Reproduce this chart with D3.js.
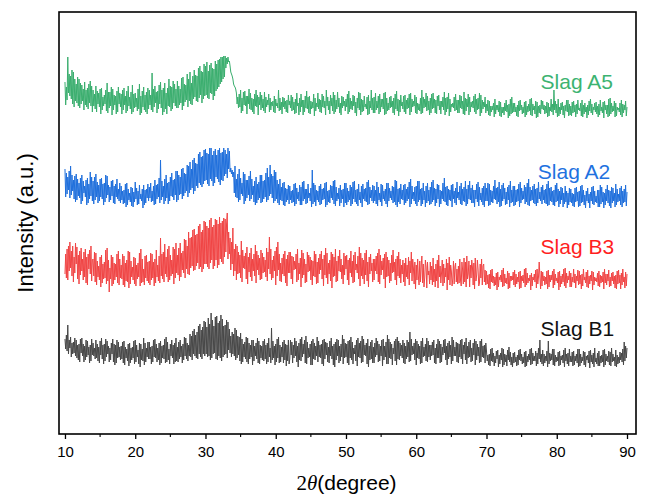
<!DOCTYPE html>
<html>
<head>
<meta charset="utf-8">
<script src="https://cdn.jsdelivr.net/npm/d3@7"></script>
<style>
  body { margin: 0; background: #fff; }
  svg { display: block; }
</style>
</head>
<body>
<svg id="chart" width="649" height="496"></svg>
<script>
// Scan grid: 2θ from 10° to 90° in 0.1° steps
const thetaStart = 10;
const thetaStep = 0.1;

const seriesNames = ["Slag A5", "Slag A2", "Slag B3", "Slag B1"];
// vertical stacking offset of each pattern (a.u.)
const seriesOffsets = [300, 210, 130, 50];
const xTicks = [10, 20, 30, 40, 50, 60, 70, 80, 90];
const xMinorTicks = [15, 25, 35, 45, 55, 65, 75, 85];

// Measured intensities (a.u.), one value per 0.1° step, 40 values per row = 4°
const slagA5 = [
  52,29,47,34,77,41,60,38,58,35,64,30,62,27,55,33,50,31,57,28,55,26,51,30,49,33,45,24,52,29,44,27,46,25,50,31,53,28,48,22,
  44,28,40,25,48,22,43,30,41,27,45,20,46,24,37,28,39,30,44,23,51,21,42,26,42,28,47,19,45,24,39,29,38,20,43,22,47,30,41,27,
  40,20,44,24,46,29,38,21,43,23,48,28,37,25,42,20,49,22,40,26,41,27,36,23,45,25,50,19,38,21,43,27,47,24,39,22,42,20,46,25,
  44,29,39,24,61,22,45,27,48,31,42,21,43,25,49,30,52,26,44,19,46,22,51,25,41,20,46,28,55,27,48,23,47,25,53,31,50,28,45,26,
  53,26,48,29,45,31,56,24,57,28,50,32,49,34,60,27,55,33,62,30,51,29,58,35,64,37,59,33,58,32,66,36,68,39,63,31,62,35,70,38,
  68,39,72,36,63,35,69,41,71,40,66,34,65,38,73,43,70,45,74,47,75,50,77,52,77,55,78,57,78,66,76,70,77,72,73,68,62,60,58,55,
  50,48,47,45,41,30,37,26,40,27,44,21,36,23,42,29,43,28,38,20,38,30,45,25,41,24,36,22,35,20,40,28,44,27,39,19,37,29,42,24,
  39,26,35,23,42,21,37,27,34,29,40,22,36,24,32,28,33,22,38,21,35,28,31,26,44,23,36,24,32,20,37,27,36,25,33,22,34,21,39,29,
  33,26,39,23,37,24,32,20,35,21,41,28,31,19,36,22,40,27,34,19,34,22,38,26,43,25,37,21,38,20,33,25,32,26,40,18,36,23,31,27,
  41,25,35,22,34,21,40,27,38,26,33,19,44,28,37,24,33,20,39,28,36,23,42,20,39,22,34,25,42,27,36,21,31,19,38,26,37,28,33,23,
  35,27,40,20,43,22,36,25,33,24,39,28,38,21,32,18,36,26,42,24,41,19,35,22,34,23,38,27,30,25,37,19,39,20,33,26,44,24,36,21,
  37,21,41,24,33,26,38,20,40,22,35,27,35,25,41,19,42,20,36,23,31,24,37,26,38,27,33,21,36,19,40,25,43,23,35,18,34,22,39,28,
  32,25,38,22,39,20,34,25,36,26,40,19,41,22,35,27,33,28,39,21,37,20,31,24,30,23,36,20,44,21,37,26,35,27,41,23,38,24,33,19,
  36,21,40,25,41,26,35,21,34,20,38,28,39,24,33,20,33,27,37,24,42,19,36,22,37,25,41,18,35,22,30,27,31,26,37,23,40,24,34,21,
  34,21,39,26,38,25,33,20,42,19,36,23,35,27,40,19,37,22,32,27,33,26,38,22,40,20,35,24,36,25,41,18,39,21,34,25,32,27,37,21,
  30,23,34,19,33,18,28,22,28,24,31,17,35,20,29,24,29,22,33,18,32,17,27,21,27,19,31,23,34,22,29,16,30,18,35,20,37,21,31,22,
  31,22,27,18,29,17,33,23,34,24,29,20,27,21,32,17,33,19,28,22,30,23,35,19,36,18,30,24,28,20,33,16,32,17,28,21,29,20,34,25,
  33,24,29,20,28,21,32,17,31,18,27,23,35,22,30,19,44,24,33,21,30,17,35,18,27,20,31,24,32,19,28,16,29,23,34,22,34,18,30,19,
  28,18,32,21,33,22,29,17,30,20,34,24,26,23,31,18,34,17,29,20,31,22,27,16,29,19,33,23,35,21,30,19,27,24,31,22,32,20,28,17,
  30,19,34,23,27,21,32,16,33,24,29,20,29,17,35,18,36,20,31,22,28,23,33,17,31,18,27,24,26,22,31,19,34,17,30,21,29,24,33,18,
  27
];

const slagA2 = [
  55,27,51,30,47,34,53,26,58,29,49,33,44,25,48,22,50,24,45,28,41,26,46,20,49,23,43,31,38,27,44,19,46,21,40,25,52,28,47,23,
  43,20,47,24,50,27,42,21,39,23,45,27,46,25,40,19,41,22,49,26,48,29,39,22,37,24,43,28,44,21,38,20,40,27,45,25,35,23,41,21,
  38,24,33,20,34,21,40,17,41,19,35,24,31,22,37,18,36,17,32,22,42,25,36,19,33,20,39,25,30,23,35,16,39,19,34,21,35,26,40,23,
  37,26,41,22,33,23,38,19,44,20,39,25,40,27,46,21,64,24,43,27,38,20,45,23,49,26,41,20,42,23,47,28,51,27,44,24,45,29,53,22,
  53,24,49,29,47,30,55,25,56,28,51,31,50,33,59,27,58,31,62,34,55,36,64,30,66,33,61,38,60,36,70,41,72,39,67,37,68,40,74,43,
  75,44,71,40,70,38,76,45,76,43,69,38,73,41,75,47,69,45,74,42,76,39,71,44,72,43,76,48,74,50,70,46,76,55,73,52,56,50,54,47,
  52,31,58,27,45,26,50,22,55,24,46,30,41,28,52,20,50,23,44,26,44,29,48,23,53,25,45,29,38,22,43,19,47,21,40,24,42,26,49,21,
  49,22,43,25,44,27,51,22,56,24,47,28,59,30,50,26,48,21,54,23,52,25,44,21,40,19,45,24,37,23,41,19,42,18,36,22,35,24,39,20,
  38,24,33,21,34,22,40,18,41,20,36,25,32,23,39,19,37,19,42,23,43,25,35,20,35,21,40,26,31,23,36,17,54,20,41,22,39,18,34,24,
  33,22,38,19,40,20,35,24,36,25,41,17,42,19,33,22,34,21,39,26,38,24,43,20,44,18,37,23,31,25,36,18,39,21,34,25,35,17,41,21,
  41,19,36,22,33,24,39,18,37,20,42,25,43,22,34,20,35,18,40,24,32,21,38,17,40,25,35,23,36,22,42,19,44,20,37,26,34,23,39,21,
  38,23,34,20,42,18,37,24,31,22,40,18,39,25,33,23,35,20,41,17,41,23,36,26,33,24,38,21,37,22,44,19,43,17,35,22,36,20,40,25,
  34,24,39,19,40,21,35,23,37,25,42,17,45,20,38,25,32,23,37,20,38,18,43,22,43,24,35,18,36,20,41,24,33,17,38,21,41,23,34,19,
  37,20,42,22,44,24,36,18,35,21,40,25,39,17,34,20,33,25,41,23,46,22,37,19,38,18,35,24,34,23,39,17,40,25,33,21,36,19,42,26,
  32,24,38,20,41,19,35,23,37,22,43,18,35,20,39,25,43,24,36,21,39,21,34,17,34,25,40,22,42,18,37,24,31,22,36,19,38,17,41,23,
  36,23,41,18,40,19,34,22,33,21,38,25,44,24,36,20,37,22,42,17,35,18,39,23,41,25,36,19,32,20,37,24,39,17,43,21,34,22,38,18,
  38,19,34,22,35,23,40,17,42,21,36,24,33,25,39,20,37,22,41,19,45,18,37,23,34,24,38,21,40,20,35,18,36,21,42,25,32,23,37,20,
  39,24,34,21,35,20,40,18,43,19,36,23,37,22,33,19,34,18,39,22,41,23,35,17,33,20,37,24,36,17,31,20,38,22,33,16,31,19,36,22,
  35,21,31,18,30,17,36,22,37,23,32,17,33,18,38,21,39,22,34,19,29,16,33,23,36,21,30,16,32,23,37,20,38,19,33,22,28,21,34,17,
  34,17,39,20,37,22,32,16,31,19,35,23,39,21,34,18,33,16,37,21,36,23,31,17,40,19,35,22,30,23,36,19,38,17,33,21,35,22,39,18,
  32
];

const slagB3 = [
  30,50,26,55,24,58,33,62,36,53,28,58,22,47,31,61,40,57,25,49,20,53,29,56,33,45,24,52,27,55,21,47,19,50,35,54,30,58,23,44,
  45,28,52,22,51,19,43,27,38,24,47,17,49,21,40,25,42,26,54,20,56,23,44,12,36,25,49,18,47,20,41,24,40,27,50,21,53,19,45,26,
  39,25,50,19,48,17,41,23,44,22,53,16,52,20,43,27,37,24,47,20,46,18,39,25,41,27,51,18,55,21,45,22,35,19,48,26,49,23,42,21,
  43,19,51,24,50,26,42,18,45,21,54,27,39,23,48,21,66,28,50,25,52,22,60,30,47,27,55,22,58,24,49,28,44,30,57,20,55,26,61,31,
  49,29,56,23,61,27,51,34,53,31,65,26,64,35,58,30,72,29,66,36,67,38,74,33,75,34,69,38,70,41,78,35,80,37,72,32,74,35,83,40,
  82,40,78,37,76,35,84,41,86,44,77,35,79,38,85,44,84,36,80,39,87,45,81,42,83,40,86,47,85,52,80,91,45,72,50,66,34,62,40,76,
  28,55,33,60,24,58,30,52,31,49,26,63,22,54,36,48,35,51,25,57,20,47,32,51,27,56,23,45,33,50,28,59,21,53,34,49,29,46,24,54,
  25,51,31,47,32,44,27,56,23,52,35,67,30,55,24,44,26,48,33,53,19,57,28,62,34,50,23,41,22,46,30,50,28,53,21,45,18,49,31,52,
  31,52,25,48,20,47,34,43,35,50,22,55,24,41,30,46,17,54,26,51,29,45,21,40,22,52,32,49,33,47,24,44,19,43,28,53,27,50,20,42,
  21,46,30,50,34,53,25,45,18,49,29,56,26,51,20,41,30,44,23,52,16,50,27,47,28,55,22,43,23,48,33,54,32,45,25,39,20,51,29,48,
  35,49,24,44,19,46,31,53,27,43,21,49,22,52,34,40,31,48,25,57,18,51,28,46,25,44,20,51,29,54,23,42,17,47,30,50,33,41,22,45,
  24,45,33,48,30,51,22,55,20,49,29,43,34,46,25,50,16,52,27,47,28,44,21,41,23,49,31,54,32,42,24,45,19,48,28,52,26,45,21,39,
  30,44,22,41,18,46,27,39,25,47,19,43,31,52,23,45,36,20,42,15,39,24,45,28,19,43,22,38,48,21,40,17,26,44,37,16,42,29,33,20,
  42,24,38,19,46,22,35,17,40,23,44,16,49,27,38,21,31,44,18,40,21,36,27,45,14,41,24,47,19,39,33,18,25,43,20,37,41,22,35,20,
  38,21,45,24,18,42,34,20,46,22,42,17,48,25,30,43,17,39,26,44,37,19,41,15,46,23,29,44,35,18,21,40,26,45,19,38,40,22,34,19,
  33,20,29,16,30,15,34,22,35,21,28,18,27,19,31,14,32,17,27,24,29,22,34,17,36,18,30,21,26,20,33,15,31,16,28,23,28,24,32,19,
  34,17,30,20,27,22,32,15,33,16,28,23,29,21,35,17,36,19,31,21,26,23,29,14,31,18,27,24,30,22,34,16,35,20,27,42,28,15,33,18,
  32,23,28,19,27,20,33,15,34,17,29,22,29,24,33,16,35,19,30,23,26,21,32,14,33,17,28,20,30,22,35,18,36,16,31,21,28,24,33,17,
  31,17,27,22,35,21,30,16,28,23,34,19,33,20,29,15,30,18,35,24,27,21,32,17,34,16,28,20,29,23,33,14,32,19,27,23,26,22,31,18,
  33,17,29,21,28,22,32,15,35,21,30,19,30,23,34,17,27,18,31,23,32,20,28,16,29,15,33,20,34,21,29,15,31,19,35,22,27,16,32,18,
  30
];

const slagB1 = [
  45,35,49,33,59,30,44,36,47,27,41,30,42,31,46,28,44,26,39,24,40,22,45,31,46,28,40,22,38,24,44,27,43,29,37,21,39,23,45,29,
  41,28,36,25,44,26,40,23,37,21,43,29,46,25,39,20,40,23,45,27,43,30,38,22,36,24,41,30,45,22,40,19,39,21,44,26,42,27,37,24,
  38,25,42,21,43,19,37,26,35,23,40,18,41,21,36,24,37,26,43,20,44,22,39,27,34,20,41,17,40,24,35,23,46,19,41,22,36,27,42,25,
  42,25,37,20,38,22,44,27,45,26,40,22,36,24,41,19,43,21,38,26,39,25,45,21,47,22,42,24,35,20,40,28,44,26,39,20,41,22,46,23,
  37,22,42,25,44,27,38,21,40,24,47,28,46,25,41,23,39,28,50,27,48,24,53,30,55,28,49,26,52,25,58,30,60,27,54,25,57,30,63,28,
  62,30,57,27,66,28,60,24,71,26,64,30,58,31,67,25,68,24,61,28,63,26,69,23,65,27,58,29,59,30,64,26,62,34,55,31,48,27,52,30,
  50,28,56,24,54,26,48,29,47,23,51,20,45,22,40,27,42,25,47,22,46,20,41,25,39,27,44,19,44,23,38,28,41,25,46,21,43,20,39,26,
  38,24,43,23,45,25,39,20,41,22,46,27,36,21,56,24,43,26,38,19,40,22,45,26,47,21,39,22,37,27,42,21,44,24,40,18,39,23,44,20,
  25,44,29,42,21,39,26,46,28,43,22,38,17,41,24,45,23,47,27,40,30,44,21,48,20,42,26,36,27,40,19,43,19,45,25,41,24,38,28,47,
  22,43,27,39,26,40,20,44,18,45,25,42,29,41,22,37,21,43,28,46,25,38,19,40,17,42,24,45,28,44,21,38,23,40,27,49,20,45,26,41,
  27,40,21,43,19,44,26,47,24,42,20,36,30,39,23,44,18,46,27,41,26,43,21,48,22,45,29,39,28,41,20,45,17,38,24,42,25,44,21,37,
  21,41,27,46,29,43,22,40,23,38,28,44,18,45,24,38,27,42,20,49,20,45,26,42,25,40,19,36,30,43,23,45,19,47,25,43,24,41,28,39,
  26,44,21,41,20,38,25,44,27,42,22,52,23,45,29,38,30,41,24,45,19,43,26,40,25,38,20,43,21,46,27,37,28,40,23,46,22,43,27,39,
  24,39,28,42,29,44,21,36,20,40,26,45,26,43,21,40,22,37,29,44,31,45,24,38,19,41,25,43,27,39,20,47,23,44,28,37,28,42,22,41,
  21,40,27,44,25,45,20,39,30,42,24,46,20,38,26,42,27,44,22,36,23,41,29,45,19,43,24,40,28,37,21,43,22,45,27,38,26,39,21,41,
  33,23,29,19,30,18,35,23,36,22,31,18,28,21,33,25,34,17,29,20,31,24,36,17,35,19,30,22,29,18,34,24,37,22,32,19,27,17,31,21,
  32,22,27,18,29,19,34,24,35,23,30,20,27,21,32,17,33,18,28,22,30,24,35,19,36,20,31,23,28,23,33,18,31,20,36,25,44,22,30,20,
  34,18,30,21,28,23,33,17,43,20,31,23,30,24,35,19,35,18,29,22,27,23,32,18,33,19,28,24,29,21,34,17,36,23,30,20,31,18,35,22,
  28,22,32,18,33,19,28,23,30,21,35,17,35,18,30,21,27,23,33,19,32,17,28,24,29,21,33,16,34,22,29,20,31,17,36,22,26,20,31,18,
  33,18,28,21,29,22,34,17,35,19,30,23,28,22,33,19,32,18,36,22,30,23,27,18,34,17,29,20,27,21,32,24,31,22,35,19,42,23,38,26,
  36
];

const seriesValues = [slagA5, slagA2, slagB3, slagB1];

// ---- layout and styling ----
const plot = { left: 59, right: 636, top: 12, bottom: 434 };
const lineColors = ["#3aae6e", "#1f6fdc", "#f04444", "#474747"];
const labelColors = ["#3cb371", "#1f72e0", "#ff1f1f", "#111111"];
const labelPos = [   // [2θ, intensity] anchor of each series label
  [77.7, 345], [77.3, 255], [77.7, 180], [77.7, 98]
];
const sans = "'Liberation Sans', Arial, sans-serif";
const serif = "'Liberation Serif', 'Times New Roman', serif";

const svg = d3.select("#chart");

const x = d3.scaleLinear().domain([9.15, 91.28]).range([plot.left, plot.right]);
const y = d3.scaleLinear().domain([0, 422]).range([plot.bottom, plot.top]);

// diffraction patterns
svg.append("clipPath").attr("id", "plotclip")
  .append("rect")
  .attr("x", plot.left).attr("y", plot.top)
  .attr("width", plot.right - plot.left).attr("height", plot.bottom - plot.top);

seriesValues.forEach((vals, s) => {
  const line = d3.line()
    .x((d, i) => x(thetaStart + i * thetaStep))
    .y(d => y(d + seriesOffsets[s]));
  svg.append("path")
    .datum(vals)
    .attr("clip-path", "url(#plotclip)")
    .attr("fill", "none")
    .attr("stroke", lineColors[s])
    .attr("stroke-width", 1)
    .attr("stroke-linejoin", "bevel")
    .attr("d", line);
});

// series labels
seriesNames.forEach((name, s) => {
  svg.append("text")
    .attr("x", x(labelPos[s][0]))
    .attr("y", y(labelPos[s][1]))
    .attr("fill", labelColors[s])
    .attr("font-family", sans)
    .attr("font-size", 21)
    .text(name);
});

// bottom axis
const xAxis = svg.append("g")
  .attr("transform", `translate(0,${plot.bottom})`)
  .call(d3.axisBottom(x).tickValues(xTicks).tickSize(5).tickPadding(7).tickFormat(d3.format("d")));
xAxis.select(".domain").remove();
xAxis.selectAll(".tick line").attr("stroke", "#000").attr("stroke-width", 1.3);
xAxis.selectAll(".tick text")
  .attr("font-family", sans).attr("font-size", 15).attr("fill", "#000");

svg.append("g")
  .attr("transform", `translate(0,${plot.bottom})`)
  .selectAll("line").data(xMinorTicks).join("line")
  .attr("x1", d => x(d)).attr("x2", d => x(d))
  .attr("y1", 0).attr("y2", 3)
  .attr("stroke", "#000").attr("stroke-width", 1.1);

// frame
svg.append("rect")
  .attr("x", plot.left).attr("y", plot.top)
  .attr("width", plot.right - plot.left).attr("height", plot.bottom - plot.top)
  .attr("fill", "none").attr("stroke", "#000").attr("stroke-width", 1.6);

// axis titles
const xt = svg.append("text")
  .attr("x", (plot.left + plot.right) / 2 - 1)
  .attr("y", 490)
  .attr("text-anchor", "middle")
  .attr("font-family", sans)
  .attr("font-size", 21)
  .attr("fill", "#000");
xt.append("tspan").attr("font-family", serif).text("2");
xt.append("tspan").attr("font-family", serif).attr("font-style", "italic").text("θ");
xt.append("tspan").text("(degree)");

svg.append("text")
  .attr("transform", `translate(33,${(plot.top + plot.bottom) / 2}) rotate(-90)`)
  .attr("text-anchor", "middle")
  .attr("font-family", sans)
  .attr("font-size", 22)
  .attr("fill", "#000")
  .text("Intensity (a.u.)");
</script>
</body>
</html>
